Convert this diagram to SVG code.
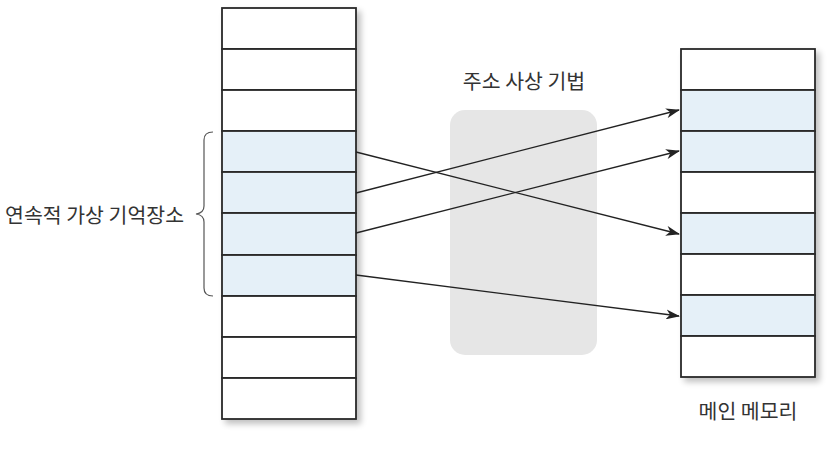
<svg xmlns="http://www.w3.org/2000/svg" width="835" height="451" viewBox="0 0 835 451">
<defs>
<style>
.cell{stroke:#2a2a2a;stroke-width:1.8}
.w{fill:#ffffff}
.b{fill:#e5f0f8}
.lbl{font-family:"Noto Sans CJK KR","Noto Sans",sans-serif;font-size:20.5px;fill:#333}
.conn{stroke:#222;stroke-width:1.3;fill:none}
</style>
<marker id="ah" viewBox="0 0 14 10" refX="13" refY="5" markerWidth="14" markerHeight="10" markerUnits="userSpaceOnUse" orient="auto">
<path d="M0,0 L14,5 L0,10 L4,5 Z" fill="#222"/>
</marker>
<filter id="sh" x="-10%" y="-10%" width="130%" height="130%">
<feGaussianBlur in="SourceAlpha" stdDeviation="3"/>
<feOffset dx="4" dy="4"/>
<feComponentTransfer><feFuncA type="linear" slope="0.25"/></feComponentTransfer>
<feMerge><feMergeNode/><feMergeNode in="SourceGraphic"/></feMerge>
</filter>
</defs>
<rect width="835" height="451" fill="#ffffff"/>

<g id="mapping">
<rect x="450" y="110" width="147" height="245" rx="15" fill="#e6e6e6"/>
<text class="lbl" x="524" y="89" text-anchor="middle">주소 사상 기법</text>
</g>

<g id="virtual-memory" filter="url(#sh)">
<rect class="cell w" x="222" y="8" width="134" height="41"/>
<rect class="cell w" x="222" y="49" width="134" height="41"/>
<rect class="cell w" x="222" y="90" width="134" height="41"/>
<rect class="cell b" x="222" y="131" width="134" height="41"/>
<rect class="cell b" x="222" y="172" width="134" height="41"/>
<rect class="cell b" x="222" y="213" width="134" height="42"/>
<rect class="cell b" x="222" y="255" width="134" height="41"/>
<rect class="cell w" x="222" y="296" width="134" height="41"/>
<rect class="cell w" x="222" y="337" width="134" height="41"/>
<rect class="cell w" x="222" y="378" width="134" height="41"/>
</g>

<g id="contiguous-label">
<path d="M213,132 Q204,132 204,140 L204,206 Q204,213 196,214 Q204,215 204,222 L204,288 Q204,296 213,296" fill="none" stroke="#555" stroke-width="1.2"/>
<text class="lbl" x="184" y="223" text-anchor="end">연속적 가상 기억장소</text>
</g>

<g id="main-memory" filter="url(#sh)">
<rect class="cell w" x="681" y="49" width="134" height="41"/>
<rect class="cell b" x="681" y="90" width="134" height="41"/>
<rect class="cell b" x="681" y="131" width="134" height="41"/>
<rect class="cell w" x="681" y="172" width="134" height="41"/>
<rect class="cell b" x="681" y="213" width="134" height="41"/>
<rect class="cell w" x="681" y="254" width="134" height="41"/>
<rect class="cell b" x="681" y="295" width="134" height="41"/>
<rect class="cell w" x="681" y="336" width="134" height="41"/>
</g>
<g id="main-memory-label">
<text class="lbl" x="748" y="419" text-anchor="middle">메인 메모리</text>
</g>

<g id="connectors">
<line class="conn" x1="356" y1="152" x2="679" y2="234" marker-end="url(#ah)"/>
<line class="conn" x1="356" y1="193" x2="679" y2="110" marker-end="url(#ah)"/>
<line class="conn" x1="356" y1="233" x2="679" y2="151" marker-end="url(#ah)"/>
<line class="conn" x1="356" y1="275" x2="679" y2="316" marker-end="url(#ah)"/>
</g>
</svg>
